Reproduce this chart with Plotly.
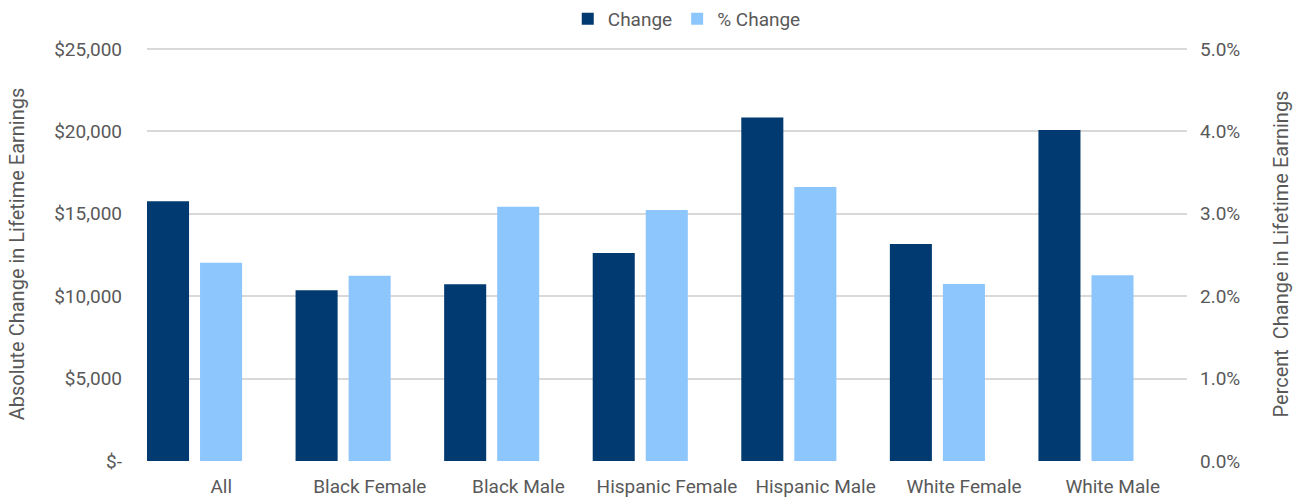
import plotly.graph_objects as go

categories = ["All", "Black Female", "Black Male", "Hispanic Female",
              "Hispanic Male", "White Female", "White Male"]
change = [15760, 10360, 10730, 12620, 20840, 13170, 20080]
pct_change = [0.02407, 0.02249, 0.03085, 0.03045, 0.03324, 0.02149, 0.02254]

left_tickvals = [0, 5000, 10000, 15000, 20000, 25000]
left_ticktext = ["$-", "$5,000", "$10,000", "$15,000", "$20,000", "$25,000"]
right_tickvals = [0, 0.01, 0.02, 0.03, 0.04, 0.05]
right_ticktext = ["0.0%", "1.0%", "2.0%", "3.0%", "4.0%", "5.0%"]

DARK = "#003A70"
LIGHT = "#8DC6FC"
TXT = "#595959"
FONT = "Roboto"

fig = go.Figure()
fig.add_trace(go.Bar(x=categories, y=change, name="Change", marker_color=DARK,
                     marker_line_width=0, offset=-0.5, width=0.283, yaxis="y"))
fig.add_trace(go.Bar(x=categories, y=pct_change, name="% Change", marker_color=LIGHT,
                     marker_line_width=0, offset=-0.143, width=0.283, yaxis="y2"))

fig.update_layout(
    width=1304, height=502,
    margin=dict(l=147, r=117, t=47, b=41, autoexpand=False),
    paper_bgcolor="white", plot_bgcolor="white",
    font=dict(family=FONT, size=19, color=TXT),
    barmode="overlay",
    showlegend=True,
    legend=dict(orientation="h", x=0.519, xanchor="center", y=1.068, yanchor="middle",
                font=dict(size=19, color=TXT), itemwidth=30, traceorder="normal",
                bgcolor="rgba(0,0,0,0)"),
    xaxis=dict(showgrid=False, showline=False, zeroline=False, ticks="",
               tickfont=dict(size=19, color=TXT), range=[-0.5, 6.5],
               ticklabelstandoff=12),
    yaxis=dict(range=[0, 25120], tickvals=left_tickvals, ticktext=left_ticktext,
               showgrid=True, gridcolor="#D9D9D9", gridwidth=1.5, zeroline=False,
               showline=False, ticks="", ticklabelstandoff=24,
               tickfont=dict(size=19, color=TXT),
               title=dict(text="Absolute Change in Lifetime Earnings",
                          font=dict(size=20, color=TXT), standoff=24)),
    yaxis2=dict(range=[0, 0.05024], tickvals=right_tickvals, ticktext=right_ticktext,
                overlaying="y", side="right", showgrid=False, zeroline=False,
                showline=False, ticks="", ticklabelstandoff=12,
                tickfont=dict(size=19, color=TXT),
                title=dict(text="Percent  Change in Lifetime Earnings",
                           font=dict(size=20, color=TXT), standoff=34)),
)

fig.write_html("out.html")
